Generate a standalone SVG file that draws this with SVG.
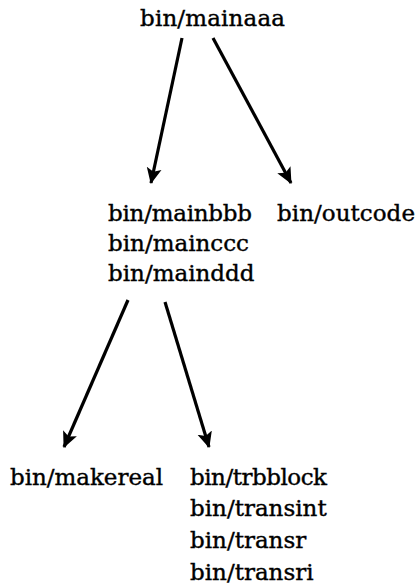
<svg xmlns="http://www.w3.org/2000/svg" width="419" height="588" viewBox="0 0 419 588">
<style>
text{font-family:"DejaVu Serif","Liberation Serif",serif;font-size:23px;fill:#000;stroke:#000;stroke-width:0.4}
.c{stroke:#000;stroke-width:3.2;fill:none}
</style>
<defs>
<marker id="ah" markerUnits="userSpaceOnUse" markerWidth="18" markerHeight="18" viewBox="0 0 18 18" refX="15" refY="9" orient="auto">
<path d="M0,1.5 L16,9 L0,16.5 L3.5,9 Z" fill="#000"/>
</marker>
</defs>
<rect width="419" height="588" fill="#fff"/>
<g id="connectors">
<line class="c" x1="182" y1="38" x2="151" y2="183" marker-end="url(#ah)"/>
<line class="c" x1="213" y1="38" x2="291" y2="183" marker-end="url(#ah)"/>
<line class="c" x1="128" y1="300" x2="64" y2="447" marker-end="url(#ah)"/>
<line class="c" x1="165" y1="302" x2="209" y2="447" marker-end="url(#ah)"/>
</g>
<g id="n-mainaaa"><text x="140" y="26" textLength="145">bin/mainaaa</text></g>
<g id="n-mainbbb">
<text x="108" y="221" textLength="144">bin/mainbbb</text>
<text x="108" y="251">bin/mainccc</text>
<text x="108" y="281">bin/mainddd</text>
</g>
<g id="n-outcode"><text x="277" y="221" textLength="138">bin/outcode</text></g>
<g id="n-makereal"><text x="10" y="485" textLength="153">bin/makereal</text></g>
<g id="n-trbblock">
<text x="190" y="485" textLength="137">bin/trbblock</text>
<text x="190" y="516">bin/transint</text>
<text x="190" y="548">bin/transr</text>
<text x="190" y="580">bin/transri</text>
</g>
</svg>
